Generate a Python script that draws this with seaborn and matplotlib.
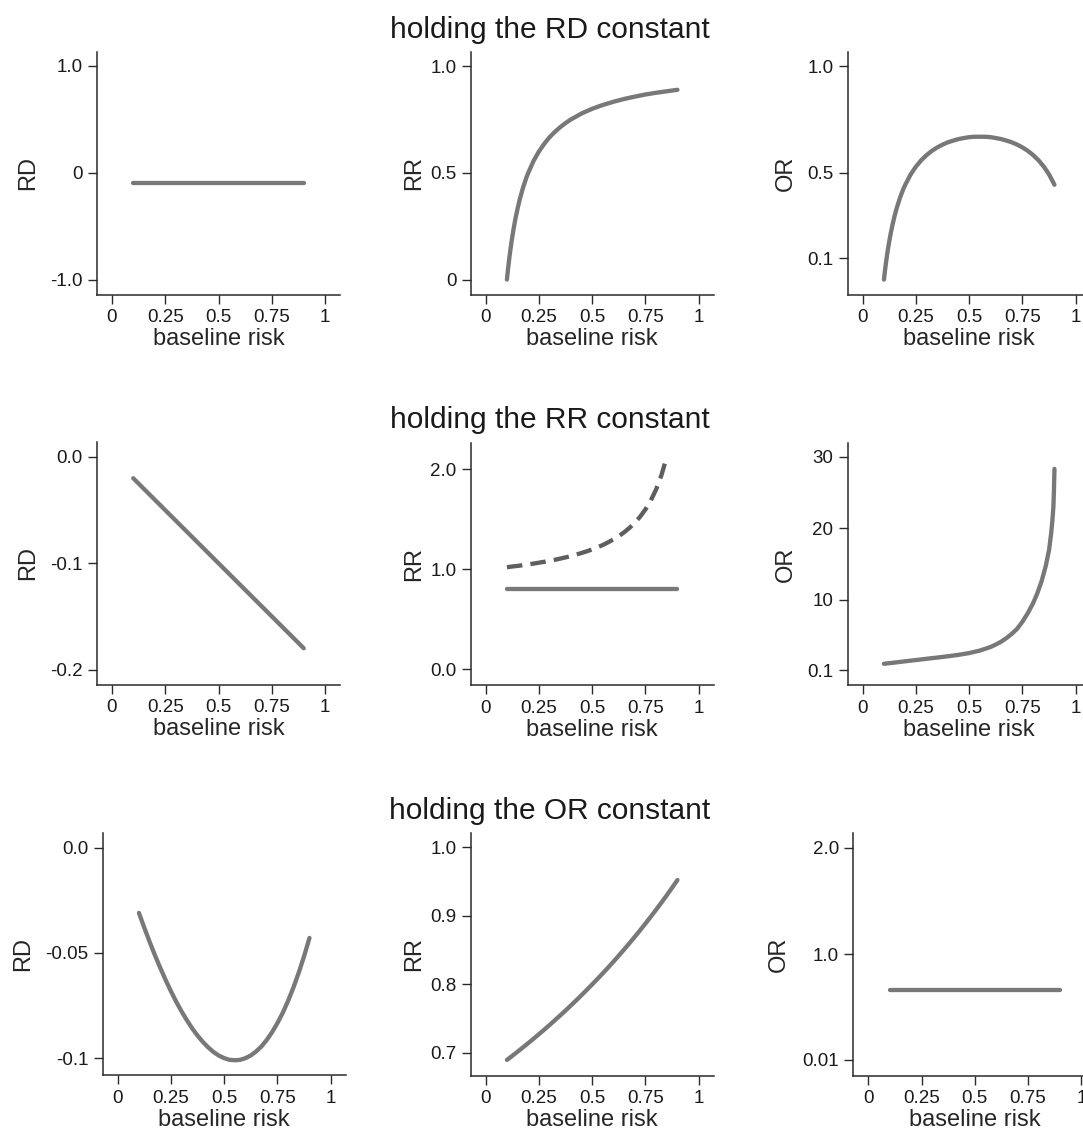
import matplotlib
matplotlib.use("Agg")
import matplotlib.pyplot as plt
import seaborn as sns

# ==========================================
# values
# ==========================================
risk_ends = [0.1, 0.9]
risk = [0.1, 0.125, 0.15, 0.175, 0.2, 0.225, 0.25, 0.275, 0.3, 0.325, 0.35,
        0.375, 0.4, 0.425, 0.45, 0.475, 0.5, 0.525, 0.55, 0.575, 0.6, 0.625,
        0.65, 0.675, 0.7, 0.725, 0.75, 0.775, 0.8, 0.825, 0.85, 0.875, 0.9]
xticks = [0, 0.25, 0.5, 0.75, 1]
xtick_labels = ["0", "0.25", "0.5", "0.75", "1"]

# --- holding the RD constant ---
rd_row1 = [-0.1, -0.1]
rr_row1_x = [0.1, 0.105, 0.11, 0.115, 0.12, 0.13, 0.14, 0.15, 0.16, 0.175, 0.19,
             0.2, 0.225, 0.25, 0.275, 0.3, 0.325, 0.35, 0.375, 0.4, 0.45, 0.5,
             0.55, 0.6, 0.65, 0.7, 0.75, 0.8, 0.85, 0.9]
rr_row1 = [0.0, 0.048, 0.091, 0.13, 0.167, 0.231, 0.286, 0.333, 0.375, 0.429, 0.474,
           0.5, 0.556, 0.6, 0.636, 0.667, 0.692, 0.714, 0.733, 0.75, 0.778, 0.8,
           0.818, 0.833, 0.846, 0.857, 0.867, 0.875, 0.882, 0.889]
or_row1_x = [0.1, 0.105, 0.11, 0.115, 0.12, 0.13, 0.14, 0.15, 0.16, 0.175, 0.19,
             0.2, 0.225, 0.25, 0.275, 0.3, 0.325, 0.35, 0.375, 0.4, 0.425, 0.45,
             0.475, 0.5, 0.525, 0.55, 0.575, 0.6, 0.625, 0.65, 0.675, 0.7, 0.725,
             0.75, 0.775, 0.8, 0.825, 0.85, 0.875, 0.9]
or_row1 = [0.0, 0.043, 0.082, 0.117, 0.15, 0.207, 0.256, 0.298, 0.335, 0.382, 0.422,
           0.444, 0.492, 0.529, 0.559, 0.583, 0.603, 0.619, 0.632, 0.643, 0.651, 0.658,
           0.663, 0.667, 0.669, 0.669, 0.669, 0.667, 0.663, 0.658, 0.651, 0.643, 0.632,
           0.619, 0.603, 0.583, 0.559, 0.529, 0.492, 0.444]

# --- holding the RR constant ---
rd_row2 = [-0.02, -0.18]
rr_row2 = [0.8, 0.8]
rr_row2_dash_x = [0.1, 0.125, 0.15, 0.175, 0.2, 0.225, 0.25, 0.275, 0.3, 0.325, 0.35,
                  0.375, 0.4, 0.425, 0.45, 0.475, 0.5, 0.525, 0.55, 0.575, 0.6, 0.625,
                  0.65, 0.675, 0.7, 0.725, 0.75, 0.775, 0.8, 0.825, 0.845]
rr_row2_dash = [1.022, 1.029, 1.035, 1.042, 1.05, 1.058, 1.067, 1.076, 1.086, 1.096, 1.108,
                1.12, 1.133, 1.148, 1.164, 1.181, 1.2, 1.221, 1.244, 1.271, 1.3, 1.333,
                1.371, 1.415, 1.467, 1.527, 1.6, 1.689, 1.8, 1.943, 2.09]
or_row2_x = [0.1, 0.15, 0.2, 0.25, 0.3, 0.35, 0.4, 0.45, 0.5, 0.55, 0.6, 0.625,
             0.65, 0.675, 0.7, 0.725, 0.75, 0.775, 0.8, 0.82, 0.84, 0.86, 0.875,
             0.885, 0.89, 0.895, 0.8975, 0.9]
or_row2 = [1.0, 1.17, 1.35, 1.52, 1.7, 1.87, 2.05, 2.25, 2.5, 2.85, 3.35, 3.7,
           4.1, 4.6, 5.2, 5.9, 6.9, 8.1, 9.5, 10.9, 12.6, 14.8, 17.0,
           19.4, 21.0, 23.0, 25.2, 28.3]

# --- holding the OR constant ---
rd_row3 = [-0.031, -0.038, -0.0447, -0.0511, -0.0571, -0.0628, -0.0682, -0.0732, -0.0778,
           -0.082, -0.0859, -0.0893, -0.0923, -0.0949, -0.0971, -0.0988, -0.1, -0.1008,
           -0.101, -0.1008, -0.1, -0.0987, -0.0968, -0.0944, -0.0913, -0.0876, -0.0833,
           -0.0784, -0.0727, -0.0664, -0.0593, -0.0515, -0.0429]
rr_row3 = [0.6897, 0.6957, 0.7018, 0.708, 0.7143, 0.7207, 0.7273, 0.7339, 0.7407, 0.7477,
           0.7547, 0.7619, 0.7692, 0.7767, 0.7843, 0.7921, 0.8, 0.8081, 0.8163, 0.8247,
           0.8333, 0.8421, 0.8511, 0.8602, 0.8696, 0.8791, 0.8889, 0.8989, 0.9091, 0.9195,
           0.9302, 0.9412, 0.9524]
or_row3 = [0.667, 0.667]

row_titles = ["holding the RD constant", "holding the RR constant",
              "holding the OR constant"]

# ==========================================
# style
# ==========================================
sns.set_style("ticks")
plt.rcParams["font.family"] = ["Liberation Sans", "DejaVu Sans"]
plt.rcParams["text.color"] = "#1a1a1a"

LINE = "#78787b"
DASH = "#5e5e60"
INK = "#2a2a2a"
W, H = 1083, 1131

fig = plt.figure(figsize=(W / 100, H / 100), dpi=100)

# one entry per panel: pixel box of the plot region, y range, ticks, label
panels = [
    # row 1
    dict(left=97, top=52, ylim=(-1.14, 1.13), yt=[-1, 0, 1], ytl=["-1.0", "0", "1.0"],
         ylab="RD", labx=26, lines=[(risk_ends, rd_row1, "-")]),
    dict(left=470.7, top=52, ylim=(-0.07, 1.066), yt=[0, 0.5, 1], ytl=["0", "0.5", "1.0"],
         ylab="RR", labx=412, lines=[(rr_row1_x, rr_row1, "-")]),
    dict(left=847.7, top=52, ylim=(-0.07, 1.066), yt=[0.1, 0.5, 1], ytl=["0.1", "0.5", "1.0"],
         ylab="OR", labx=784, lines=[(or_row1_x, or_row1, "-")]),
    # row 2
    dict(left=97, top=442, ylim=(-0.2141, 0.0141), yt=[-0.2, -0.1, 0], ytl=["-0.2", "-0.1", "0.0"],
         ylab="RD", labx=26, lines=[(risk_ends, rd_row2, "-")]),
    dict(left=470.7, top=442.7, ylim=(-0.157, 2.266), yt=[0, 1, 2], ytl=["0.0", "1.0", "2.0"],
         ylab="RR", labx=412, lines=[(risk_ends, rr_row2, "-"), (rr_row2_dash_x, rr_row2_dash, "--")]),
    dict(left=847.7, top=442.7, ylim=(-2.0, 31.96), yt=[0.1, 10, 20, 30], ytl=["0.1", "10", "20", "30"],
         ylab="OR", labx=784, lines=[(or_row2_x, or_row2, "-")]),
    # row 3
    dict(left=102.7, top=832.7, ylim=(-0.1081, 0.0071), yt=[-0.1, -0.05, 0], ytl=["-0.1", "-0.05", "0.0"],
         ylab="RD", labx=21, lines=[(risk, rd_row3, "-")]),
    dict(left=470.7, top=833, ylim=(0.667, 1.021), yt=[0.7, 0.8, 0.9, 1.0], ytl=["0.7", "0.8", "0.9", "1.0"],
         ylab="RR", labx=412, lines=[(risk, rr_row3, "-")]),
    dict(left=853.3, top=833, ylim=(-0.14, 2.137), yt=[0.01, 1, 2], ytl=["0.01", "1.0", "2.0"],
         ylab="OR", labx=777, lines=[(risk_ends, or_row3, "-")]),
]

AX_W, AX_H = 243, 242.5

for p in panels:
    ax = fig.add_axes([p["left"] / W, 1 - (p["top"] + AX_H) / H, AX_W / W, AX_H / H])
    for x, y, ls in p["lines"]:
        if ls == "-":
            sns.lineplot(x=x, y=y, ax=ax, color=LINE, lw=3.1, solid_capstyle="round",
                         solid_joinstyle="round", sort=False)
        else:
            sns.lineplot(x=x, y=y, ax=ax, color=DASH, lw=3.1, linestyle=(0, (3.6, 1.9)),
                         dash_capstyle="butt", dash_joinstyle="round", sort=False)
    ax.set_xlim(-0.07, 1.07)
    ax.set_ylim(*p["ylim"])
    ax.set_xticks(xticks)
    ax.set_xticklabels(xtick_labels)
    ax.set_yticks(p["yt"])
    ax.set_yticklabels(p["ytl"])
    ax.tick_params(direction="out", length=6.8, width=1.0, pad=3.5,
                   labelsize=13.5, color=INK, labelcolor="#1a1a1a")
    ax.set_xlabel("baseline risk", fontsize=17, labelpad=1.5)
    ax.set_ylabel(p["ylab"], fontsize=17, va="center")
    ax.yaxis.set_label_coords((p["labx"] + 2 - p["left"]) / AX_W, 0.5)
    for side in ["top", "right"]:
        ax.spines[side].set_visible(False)
    for side in ["left", "bottom"]:
        ax.spines[side].set_color(INK)
        ax.spines[side].set_linewidth(1.1)

# row titles
for top, title in zip([52, 442.5, 833], row_titles):
    fig.text(550 / W, 1 - (top - 14) / H, title, ha="center", va="baseline", fontsize=21.5)

fig.savefig("out.png", dpi=100)
